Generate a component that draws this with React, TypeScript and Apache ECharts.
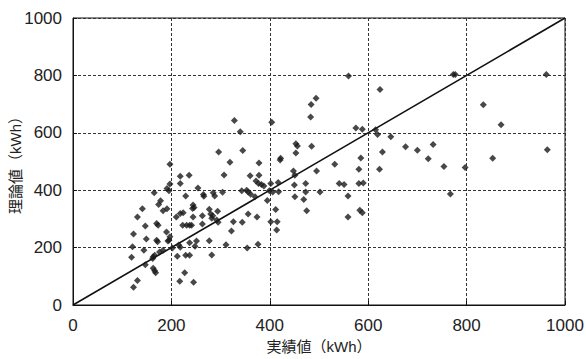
import React, { useEffect, useRef } from "react";
import * as echarts from "echarts";

const xAxisTicks = [0, 200, 400, 600, 800, 1000];
const yAxisTicks = [0, 200, 400, 600, 800, 1000];

// [実績値, 理論値]
const points: [number, number][] = [
  [560, 798], [624, 751], [773, 803], [777, 803], [962, 803], [834, 698], [870, 628],
  [964, 541], [853, 511], [754, 483], [797, 479], [767, 387], [575, 617], [588, 612],
  [615, 611], [619, 594], [646, 586], [676, 551], [700, 539], [732, 559], [585, 512],
  [629, 533], [722, 510], [532, 490], [581, 473], [623, 473], [541, 423], [551, 420],
  [581, 423], [590, 425], [559, 380], [583, 330], [588, 321], [559, 307], [484, 699],
  [494, 720], [483, 655], [485, 553], [453, 562], [456, 554], [453, 530], [422, 511],
  [421, 505], [404, 637], [328, 643], [340, 604], [296, 533], [345, 538], [197, 490],
  [319, 497], [378, 495], [218, 449], [236, 452], [307, 453], [360, 450], [378, 452],
  [448, 467], [451, 452], [495, 467], [197, 422], [218, 423], [191, 406], [195, 398],
  [165, 391], [254, 408], [229, 380], [265, 385], [266, 379], [285, 391], [288, 380],
  [304, 393], [343, 398], [353, 400], [356, 394], [361, 386], [372, 432], [377, 423],
  [383, 420], [388, 415], [370, 377], [395, 364], [402, 423], [417, 427], [406, 394],
  [399, 398], [418, 395], [450, 418], [451, 377], [469, 368], [473, 423], [475, 328],
  [473, 394], [502, 394], [178, 363], [174, 350], [191, 335], [183, 328], [141, 335],
  [131, 307], [147, 275], [123, 247], [149, 230], [170, 284], [173, 278], [170, 226],
  [172, 220], [190, 254], [197, 238], [195, 226], [193, 223], [210, 307], [218, 319],
  [224, 321], [244, 348], [246, 340], [243, 336], [263, 311], [280, 317], [284, 311],
  [282, 302], [277, 334], [294, 327], [292, 296], [295, 288], [244, 307], [223, 278],
  [231, 278], [237, 278], [241, 278], [263, 282], [322, 258], [326, 290], [344, 288],
  [356, 317], [374, 307], [412, 333], [402, 290], [415, 290], [414, 261], [121, 203],
  [144, 191], [119, 166], [147, 140], [163, 168], [166, 173], [162, 162], [163, 128],
  [166, 119], [168, 112], [131, 85], [123, 62], [183, 191], [176, 185], [215, 209],
  [218, 201], [237, 217], [248, 205], [251, 223], [212, 170], [229, 173], [237, 173],
  [227, 112], [217, 83], [245, 79], [277, 224], [282, 174], [311, 210], [354, 199],
  [376, 212], [202, 199],
];

const diagonal: [number, number][] = [
  [0, 0],
  [1000, 1000],
];

const FONT = "'Liberation Sans', 'Noto Sans CJK JP', sans-serif";

export default function App() {
  const ref = useRef<HTMLDivElement>(null);
  useEffect(() => {
    if (!ref.current) return;
    const chart = echarts.init(ref.current, undefined, { renderer: "svg" });
    const axisCommon = {
      type: "value" as const,
      min: xAxisTicks[0],
      max: xAxisTicks[xAxisTicks.length - 1],
      interval: 200,
      axisLine: { show: true, lineStyle: { color: "#111", width: 1 } },
      axisTick: { show: true, inside: true, length: 4, lineStyle: { color: "#111" } },
      splitLine: { show: true, lineStyle: { color: "#333", type: [3, 2] as any, width: 1 } },
      nameTextStyle: { fontFamily: FONT, fontSize: 15, color: "#222" },
      nameMoveOverlap: false,
    };
    chart.setOption({
      animation: false,
      backgroundColor: "#fff",
      grid: {
        left: 73,
        right: 21,
        top: 18,
        bottom: 54,
        outerBoundsMode: "none",
        containLabel: false,
        show: true,
        borderColor: "#111",
        borderWidth: 1,
        backgroundColor: "transparent",
      },
      xAxis: {
        ...axisCommon,
        name: "実績値（kWh）",
        nameLocation: "middle",
        nameGap: 34,
        axisLabel: {
          fontFamily: FONT,
          fontSize: 17,
          color: "#222",
          margin: 12,
          formatter: (v: number) => (xAxisTicks.includes(v) ? String(v) : ""),
        },
      },
      yAxis: {
        ...axisCommon,
        min: yAxisTicks[0],
        max: yAxisTicks[yAxisTicks.length - 1],
        name: "理論値（kWh）",
        nameLocation: "middle",
        nameRotate: 90,
        nameGap: 50,
        axisLabel: {
          fontFamily: FONT,
          fontSize: 17,
          color: "#222",
          margin: 11,
          formatter: (v: number) => (yAxisTicks.includes(v) ? String(v) : ""),
        },
      },
      series: [
        {
          type: "line",
          data: diagonal,
          symbol: "none",
          lineStyle: { color: "#111", width: 1.6 },
          z: 3,
        },
        {
          type: "scatter",
          data: points,
          symbol: "diamond",
          symbolSize: 7,
          itemStyle: { color: "#1a1a1a" },
          z: 4,
        },
      ],
    });
    return () => chart.dispose();
  }, []);
  return <div ref={ref} style={{ width: 586, height: 359, position: "absolute", left: 0, top: 0 }} />;
}
